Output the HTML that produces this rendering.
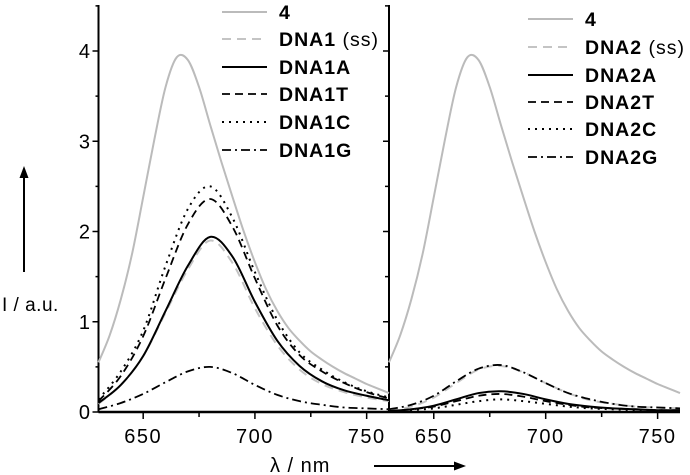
<!DOCTYPE html>
<html><head><meta charset="utf-8"><style>
html,body{margin:0;padding:0;background:#fff;}
svg{display:block;font-family:"Liberation Sans",Arial,sans-serif;}
</style></head><body>
<svg id="chart" width="690" height="475" viewBox="0 0 690 475">
<g id="axes"></g>
<g id="curves"></g>
<g id="legends"></g>
<text x="2" y="311" font-size="19" letter-spacing="0.5">I / a.u.</text>
<line x1="24" y1="272" x2="24" y2="176" stroke="#000" stroke-width="2"/>
<polygon points="24,166 19.5,178 28.5,178" fill="#000"/>
<text x="270" y="472" font-size="20" letter-spacing="1">λ / nm</text>
<line x1="374" y1="466" x2="455" y2="466" stroke="#000" stroke-width="2"/>
<polygon points="466,466 454,461.5 454,470.5" fill="#000"/>
</svg>
<script>
const wl = [630,640,650,660,670,680,690,700,710,720,730,740,750,760];
const wl4 = [630,635,640,645,650,655,660,665,670,675,680,685,690,695,700,705,710,715,720,725,730,735,740,745,750,755,760];
const s4 = [0.55,0.85,1.25,1.75,2.38,3.02,3.6,3.93,3.9,3.6,3.18,2.77,2.38,2.0,1.66,1.36,1.12,0.93,0.79,0.67,0.58,0.5,0.43,0.37,0.31,0.26,0.21];
const d1ss = [0.09,0.3,0.62,1.1,1.58,1.9,1.65,1.15,0.74,0.47,0.31,0.22,0.16,0.12];
const d1A = [0.1,0.3,0.62,1.12,1.62,1.94,1.72,1.22,0.79,0.51,0.34,0.24,0.18,0.13];
const d1T = [0.12,0.4,0.84,1.48,2.08,2.36,2.05,1.48,0.96,0.63,0.45,0.32,0.22,0.15];
const d1C = [0.14,0.45,0.9,1.62,2.25,2.5,2.15,1.55,1.02,0.66,0.47,0.33,0.23,0.16];
const d1G = [0.03,0.1,0.2,0.33,0.45,0.5,0.43,0.3,0.19,0.12,0.08,0.05,0.04,0.03];
const d2ss = [0.02,0.06,0.16,0.32,0.47,0.51,0.44,0.32,0.21,0.13,0.09,0.06,0.05,0.04];
const d2A = [0.01,0.03,0.07,0.14,0.21,0.23,0.2,0.14,0.09,0.06,0.04,0.03,0.02,0.02];
const d2T = [0.01,0.03,0.06,0.12,0.18,0.2,0.17,0.12,0.08,0.05,0.04,0.03,0.02,0.02];
const d2C = [0.0,0.02,0.04,0.08,0.12,0.14,0.12,0.09,0.06,0.04,0.03,0.02,0.02,0.01];
const d2G = [0.03,0.08,0.18,0.34,0.48,0.52,0.44,0.32,0.21,0.14,0.09,0.06,0.05,0.04];
const xTicks = [650,700,750];
const yTicks = [0,1,2,3,4];
const legend1 = ["4","DNA1","DNA1A","DNA1T","DNA1C","DNA1G"];
const legend2 = ["4","DNA2","DNA2A","DNA2T","DNA2C","DNA2G"];

const NS="http://www.w3.org/2000/svg";
const panels=[{x0:98.5,x1:389,lx:222,ly:[12,39,67,94,122,150]},{x0:389,x1:680,lx:528,ly:[19,47,75,102,129,157]}];
const Y0=412, YS=90.25;
const yS=v=>Y0-v*YS;
const xS=(p,w)=>p.x0+(w-630)*(p.x1-p.x0)/130;
function el(t,a,parent){const e=document.createElementNS(NS,t);for(const k in a)e.setAttribute(k,a[k]);parent.appendChild(e);return e;}
const styles=[
 {stroke:"#bbb",dash:"",w:2},
 {stroke:"#c4c4c4",dash:"9,6",w:2},
 {stroke:"#000",dash:"",w:2},
 {stroke:"#000",dash:"8,5",w:1.8},
 {stroke:"#000",dash:"2,5",w:2},
 {stroke:"#000",dash:"9,4,2,4",w:1.8}];
const axes=document.getElementById('axes'),cg=document.getElementById('curves'),lg=document.getElementById('legends');
function path(p,xs,vals){let pts=xs.map((w,i)=>[xS(p,w),yS(vals[i])]);let d="M"+pts[0][0]+","+pts[0][1];
 for(let i=0;i<pts.length-1;i++){const a=pts[i-1]||pts[i],b=pts[i],c=pts[i+1],e=pts[i+2]||c;
  d+=" C"+(b[0]+(c[0]-a[0])/6)+","+(b[1]+(c[1]-a[1])/6)+" "+(c[0]-(e[0]-b[0])/6)+","+(c[1]-(e[1]-b[1])/6)+" "+c[0]+","+c[1];}
 return d;}
const sets=[[s4,d1ss,d1A,d1T,d1C,d1G],[s4,d2ss,d2A,d2T,d2C,d2G]];
const legs=[legend1,legend2];
panels.forEach((p,pi)=>{
 sets[pi].forEach((vals,si)=>{const st=styles[si];
  const e=el('path',{d:path(p,si===0?wl4:wl,vals),fill:"none",stroke:st.stroke,"stroke-width":st.w,"stroke-dasharray":st.dash},cg);
  
  });
 legs[pi].forEach((n,si)=>{const st=styles[si];const y=p.ly[si];
  const l=el('line',{x1:p.lx,y1:y,x2:p.lx+45,y2:y,stroke:st.stroke,"stroke-width":st.w,"stroke-dasharray":st.dash},lg);
  
  
  const t=el('text',{x:p.lx+57,y:y+7,"font-size":"19.5","font-weight":"bold","letter-spacing":"1"},lg);
  t.textContent=n;
  if(si===1){const s=el('tspan',{"font-weight":"normal"},t);s.textContent=" (ss)";}
  
  });
 const xa=el('line',{x1:p.x0,y1:Y0,x2:p.x1,y2:Y0,stroke:"#000","stroke-width":2.5},axes);
 
 
 for(let w=650;w<=750;w+=25){const x=xS(p,w);el('line',{x1:x,y1:Y0,x2:x,y2:Y0+(w%50===0?7:5),stroke:"#000","stroke-width":1.5},axes);}
 xTicks.forEach(w=>{const t=el('text',{x:xS(p,w),y:443,"font-size":"20","text-anchor":"middle","letter-spacing":"1.5"},axes);t.textContent=w;
  
  });
});
const ya=el('line',{x1:98.5,y1:5,x2:98.5,y2:Y0,stroke:"#000","stroke-width":2},axes);


const ya2=el('line',{x1:389,y1:5,x2:389,y2:Y0,stroke:"#000","stroke-width":2},axes);


for(let v=0;v<=4.5;v+=0.5){const y=yS(v);const maj=v%1===0;
 el('line',{x1:98.5-(maj?6:3),y1:y,x2:98.5,y2:y,stroke:"#000","stroke-width":1.5},axes);
 el('line',{x1:389-(maj?6:4),y1:y,x2:389,y2:y,stroke:"#000","stroke-width":1.5},axes);}
yTicks.forEach(v=>{const t=el('text',{x:90,y:yS(v)+7,"font-size":"20","text-anchor":"end"},axes);t.textContent=v;
 
 });
</script>
</body></html>
